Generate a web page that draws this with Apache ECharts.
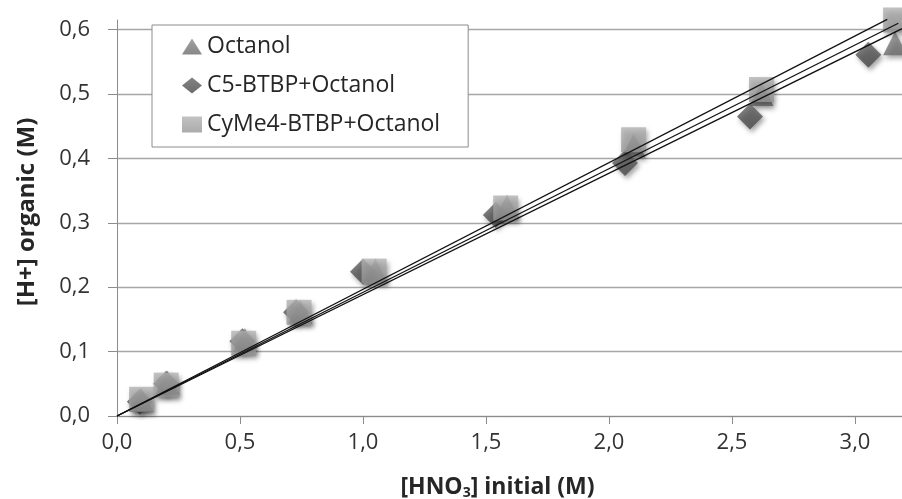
<!DOCTYPE html>
<html>
<head>
<meta charset="utf-8">
<script src="https://cdn.jsdelivr.net/npm/echarts@6/dist/echarts.min.js"></script>
<style>
html, body { margin: 0; padding: 0; background: #fff; }
#chart { width: 902px; height: 499px; }
</style>
</head>
<body>
<div id="chart"></div>
<script>
// values: [HNO3] initial (M) -> [H+] organic (M)
const octanolX = [0.10, 0.205, 0.52, 0.745, 1.05, 1.585, 2.10, 2.62, 3.163]
const octanolY = [0.025, 0.052, 0.118, 0.162, 0.226, 0.325, 0.420, 0.500, 0.579]
const c5X = [0.093, 0.20, 0.51, 0.728, 1.00, 1.54, 2.065, 2.573, 3.054]
const c5Y = [0.022, 0.050, 0.116, 0.161, 0.224, 0.312, 0.393, 0.465, 0.561]
const cyme4X = [0.10, 0.20, 0.515, 0.74, 1.045, 1.58, 2.10, 2.62, 3.165]
const cyme4Y = [0.026, 0.048, 0.113, 0.161, 0.225, 0.323, 0.429, 0.507, 0.615]
// trend lines, all start at the origin
const trendEndX = [3.131, 3.176, 3.191]
const trendEndY = [0.616, 0.610, 0.6015]

const xTicks = [0, 0.5, 1, 1.5, 2, 2.5, 3]
const yTicks = [0, 0.1, 0.2, 0.3, 0.4, 0.5, 0.6]

const FONT = '"Open Sans", sans-serif'

function pairs(xs, ys) {
  return xs.map((x, i) => [x, ys[i]])
}

function tickFormatter(ticks) {
  return v => ticks.some(t => Math.abs(t - v) < 1e-6) ? v.toFixed(1).replace('.', ',') : ''
}

function shade(top, bottom) {
  return new echarts.graphic.LinearGradient(0, 0, 0, 1, [
    { offset: 0, color: top },
    { offset: 1, color: bottom }
  ])
}

const markerShadow = {
  shadowBlur: 5,
  shadowColor: 'rgba(0,0,0,0.45)',
  shadowOffsetX: 2,
  shadowOffsetY: 3
}

const chart = echarts.init(document.getElementById('chart'))

const series = [
  {
    name: 'Octanol',
    type: 'scatter',
    symbol: 'triangle',
    symbolSize: 24,
    itemStyle: Object.assign({ color: shade('#8a8a8a', '#6a6a6a') }, markerShadow),
    data: pairs(octanolX, octanolY),
    clip: false,
    z: 2
  },
  {
    name: 'C5-BTBP+Octanol',
    type: 'scatter',
    symbol: 'diamond',
    symbolSize: 26,
    itemStyle: Object.assign({ color: shade('#636363', '#474747') }, markerShadow),
    data: pairs(c5X, c5Y),
    clip: false,
    z: 3
  },
  {
    name: 'CyMe4-BTBP+Octanol',
    type: 'scatter',
    symbol: 'rect',
    symbolSize: 25,
    itemStyle: Object.assign({ color: shade('#b3b3b3', '#969696') }, markerShadow),
    data: pairs(cyme4X, cyme4Y),
    clip: false,
    z: 4
  }
]

trendEndX.forEach((x, i) => {
  series.push({
    name: 'trend' + i,
    type: 'line',
    symbol: 'none',
    silent: true,
    clip: false,
    lineStyle: { color: '#111', width: 1.3 },
    data: [[0, 0], [x, trendEndY[i]]],
    z: 6
  })
})

chart.setOption({
  animation: false,
  backgroundColor: '#fff',
  grid: { left: 117, right: 0, top: 20, bottom: 83, outerBoundsMode: 'none', containLabel: false },
  legend: {
    orient: 'vertical',
    left: 152,
    top: 25,
    backgroundColor: '#fff',
    borderColor: '#8c8c8c',
    borderWidth: 1,
    padding: [10, 28, 11, 30],
    itemGap: 16,
    itemWidth: 20,
    itemHeight: 16,
    textStyle: { fontFamily: FONT, fontSize: 23, color: '#262626' },
    data: [
      { name: 'Octanol', icon: 'triangle' },
      { name: 'C5-BTBP+Octanol', icon: 'diamond' },
      { name: 'CyMe4-BTBP+Octanol', icon: 'rect' }
    ],
    z: 10
  },
  xAxis: {
    type: 'value',
    min: 0,
    max: 3.191,
    interval: 0.5,
    name: '{a|[HNO}{s|3}{a|] initial (M)}',
    nameLocation: 'middle',
    nameGap: 58,
    nameTextStyle: {
      padding: [0, 24, 0, 0],
      rich: {
        a: { fontFamily: FONT, fontSize: 23, fontWeight: 'bold', color: '#262626' },
        s: { fontFamily: FONT, fontSize: 14, fontWeight: 'bold', color: '#262626', verticalAlign: 'bottom', padding: [12, 0, 0, 0] }
      }
    },
    axisLine: { show: true, lineStyle: { color: '#8c8c8c', width: 1 } },
    axisTick: { show: true, length: 8, lineStyle: { color: '#8c8c8c' } },
    splitLine: { show: false },
    axisLabel: {
      fontFamily: FONT,
      fontSize: 22,
      color: '#333',
      margin: 16,
      showMaxLabel: false,
      formatter: tickFormatter(xTicks)
    }
  },
  yAxis: {
    type: 'value',
    min: 0,
    max: 0.615,
    interval: 0.1,
    name: '[H+] organic (M)',
    nameLocation: 'middle',
    nameGap: 78,
    nameTextStyle: { fontFamily: FONT, fontSize: 24, fontWeight: 'bold', color: '#262626', padding: [0, 0, 0, 12] },
    axisLine: { show: true, lineStyle: { color: '#8c8c8c', width: 1 } },
    axisTick: { show: true, length: 9, lineStyle: { color: '#8c8c8c' } },
    splitLine: { show: true, showMaxLine: false, lineStyle: { color: '#a6a6a6', width: 1.3 } },
    axisLabel: {
      fontFamily: FONT,
      fontSize: 22,
      color: '#333',
      margin: 27,
      showMaxLabel: false,
      formatter: tickFormatter(yTicks)
    }
  },
  series: series
})
</script>
</body>
</html>
